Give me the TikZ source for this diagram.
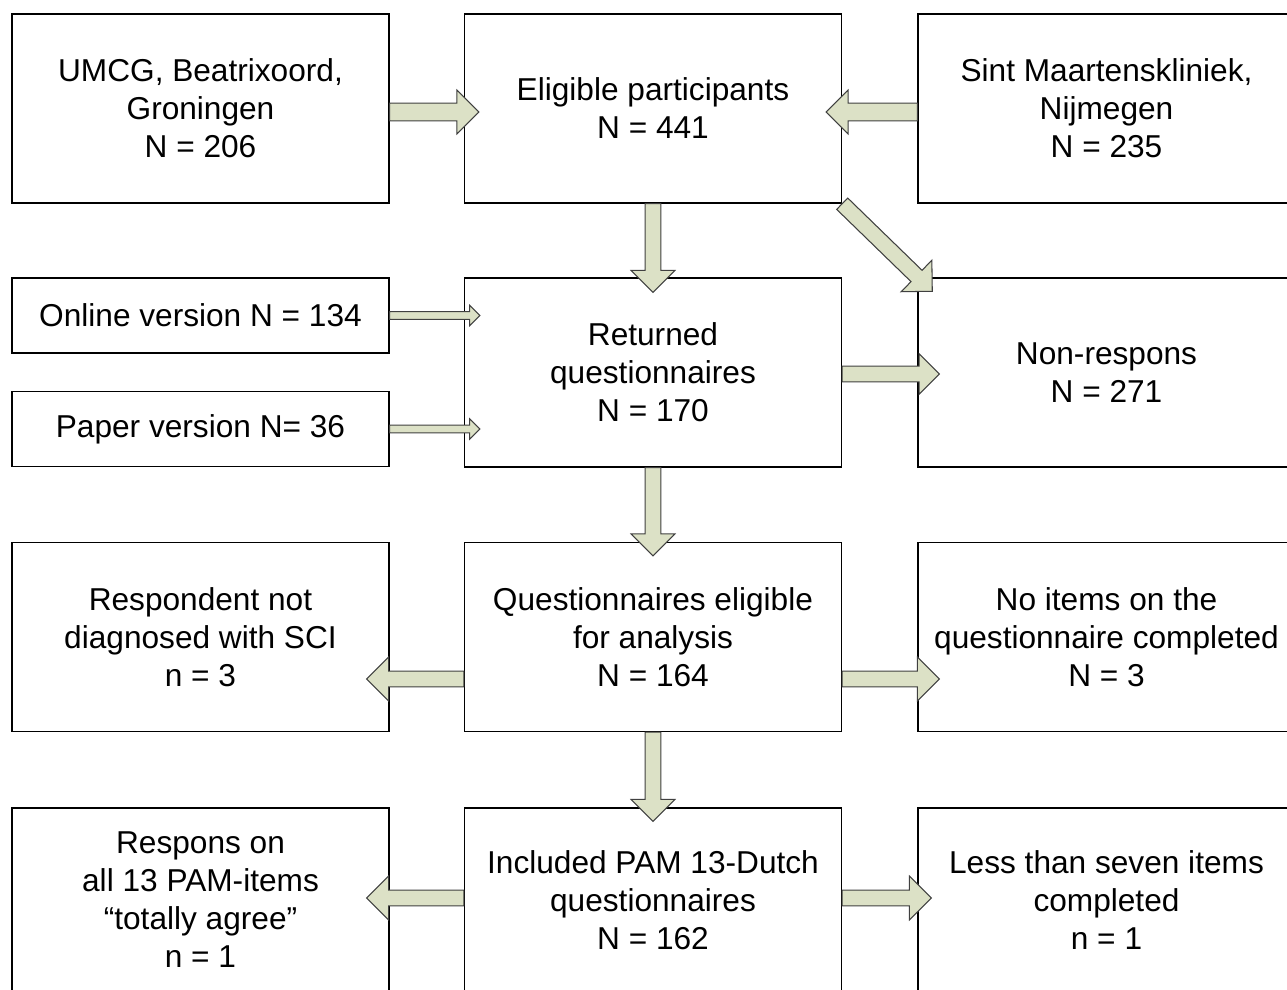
\documentclass[tikz,border=0pt]{standalone}
\usepackage{fontspec}
\setmainfont{Liberation Sans}
\usepackage{xcolor}
\usepackage{tikz}
\usetikzlibrary{calc, positioning}

\definecolor{arrowfill}{HTML}{DCE1C6}
\definecolor{arrowline}{HTML}{404040}

% block arrow: start, end, half shaft width, half head width (= head length)
\newcommand{\fatarrow}[4]{%
  \draw[fatarrow] let \p1=#1, \p2=#2,
    \n1={atan2(\y2-\y1,\x2-\x1)}, \n2={veclen(\x2-\x1,\y2-\y1)} in
    [shift={(\p1)}, rotate=\n1]
    (0pt,-#3) -- ({\n2*1pt-#4},-#3) -- ({\n2*1pt-#4},-#4) -- ({\n2*1pt},0pt)
    -- ({\n2*1pt-#4},#4) -- ({\n2*1pt-#4},#3) -- (0pt,#3) -- cycle;}

\begin{document}
\begin{tikzpicture}[
    box/.style={rectangle, draw, line width=0.8pt, minimum width=7.54cm, minimum height=3.78cm, inner sep=0pt, align=center, font={\fontsize{18}{21.6}\selectfont}},
    smallbox/.style={box, minimum height=1.5cm},
    fatarrow/.style={draw=arrowline, fill=arrowfill, line width=0.6pt, line join=miter}
]
\useasboundingbox (0,0) rectangle (25.74,-19.8);
\clip (0,0) rectangle (25.74,-19.8);

% Row 1 - sources
\node[box] (umcg) at (4.01,-2.17) {UMCG, Beatrixoord,\\Groningen\\N = 206};
\node[box] (elig) at (13.06,-2.17) {Eligible participants\\N = 441};
\node[box] (sint) at (22.13,-2.17) {Sint Maartenskliniek,\\Nijmegen\\N = 235};

% Row 2 - returned
\node[smallbox] (online) at (4.01,-6.31) {Online version N = 134};
\node[smallbox] (paper) at (4.01,-8.58) {Paper version N= 36};
\node[box] (ret) at (13.06,-7.45) {Returned\\questionnaires\\N = 170};
\node[box] (nonr) at (22.13,-7.45) {Non-respons\\N = 271};

% Row 3 - eligible for analysis
\node[box] (notsci) at (4.01,-12.74) {Respondent not\\diagnosed with SCI\\n = 3};
\node[box] (qelig) at (13.06,-12.74) {Questionnaires eligible\\for analysis\\N = 164};
\node[box] (noitems) at (22.13,-12.74) {No items on the\\questionnaire completed\\N = 3};

% Row 4 - included
\node[box, minimum height=3.68cm] (agree) at (4.01,-18.0) {Respons on\\all 13 PAM-items\\“totally agree”\\n = 1};
\node[box, minimum height=3.68cm] (incl) at (13.06,-18.0) {Included PAM 13-Dutch\\questionnaires\\N = 162};
\node[box, minimum height=3.68cm] (lessseven) at (22.13,-18.0) {Less than seven items\\completed\\n = 1};

% Arrows into eligible participants
\fatarrow{([yshift=-0.07cm]umcg.east)}{($([yshift=-0.07cm]elig.west)+(0.3,0)$)}{5.1pt}{12.5pt}
\fatarrow{([yshift=-0.07cm]sint.west)}{($([yshift=-0.07cm]elig.east)+(-0.32,0)$)}{5.1pt}{12.5pt}

% Arrows out of eligible participants
\fatarrow{(elig.south)}{($(ret.north)+(0,-0.3)$)}{4.5pt}{12.5pt}
\fatarrow{(elig.south east)}{($(nonr.north west)+(0.3,-0.28)$)}{4.5pt}{12.5pt}

% Thin arrows for online and paper versions
\fatarrow{(online.east)}{($(online.east -| ret.west)+(0.32,0)$)}{2.2pt}{5.8pt}
\fatarrow{(paper.east)}{($(paper.east -| ret.west)+(0.32,0)$)}{2.2pt}{5.8pt}

% Returned questionnaires
\fatarrow{([yshift=-0.03cm]ret.east)}{($([yshift=-0.03cm]nonr.west)+(0.44,0)$)}{4.5pt}{11.5pt}
\fatarrow{(ret.south)}{($(qelig.north)+(0,-0.28)$)}{4.5pt}{12.5pt}

% Questionnaires eligible for analysis
\fatarrow{([yshift=-0.84cm]qelig.west)}{($([yshift=-0.84cm]notsci.east)+(-0.46,0)$)}{4.5pt}{12.5pt}
\fatarrow{([yshift=-0.84cm]qelig.east)}{($([yshift=-0.84cm]noitems.west)+(0.44,0)$)}{4.5pt}{12.5pt}
\fatarrow{(qelig.south)}{($(incl.north)+(0,-0.28)$)}{4.5pt}{12.5pt}

% Included questionnaires
\fatarrow{([yshift=0.04cm]incl.west)}{($([yshift=0.04cm]agree.east)+(-0.46,0)$)}{4.5pt}{12.5pt}
\fatarrow{([yshift=0.04cm]incl.east)}{($([yshift=0.04cm]lessseven.west)+(0.28,0)$)}{4.5pt}{12.5pt}
\end{tikzpicture}
\end{document}
